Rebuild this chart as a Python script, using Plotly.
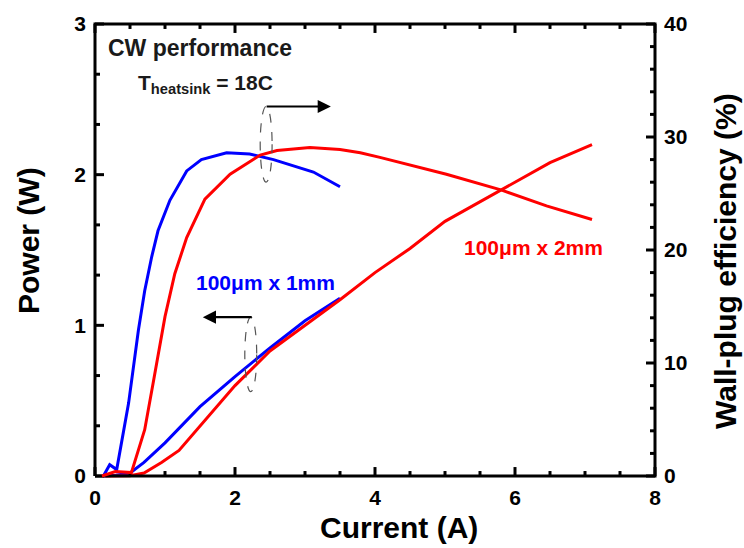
import plotly.graph_objects as go

# Power vs current, 100um x 1mm device
i_p1 = [0.12, 0.30, 0.50, 0.70, 1.00, 1.50, 2.00, 2.50, 3.00, 3.50]
p_1 = [0.00, 0.005, 0.02, 0.09, 0.22, 0.46, 0.66, 0.85, 1.03, 1.18]

# Power vs current, 100um x 2mm device
i_p2 = [0.15, 0.50, 0.70, 0.95, 1.20, 1.50, 2.00, 2.50, 3.00, 3.50, 4.00, 4.50, 5.00, 5.50, 6.00, 6.50, 7.10]
p_2 = [0.00, 0.002, 0.02, 0.09, 0.17, 0.33, 0.60, 0.83, 1.00, 1.17, 1.35, 1.51, 1.69, 1.82, 1.95, 2.08, 2.20]

# Wall-plug efficiency (%), 100um x 1mm device
i_e1 = [0.12, 0.21, 0.31, 0.48, 0.62, 0.71, 0.81, 0.90, 1.07, 1.31, 1.52, 1.88, 2.21, 2.55, 3.12, 3.50]
e_1 = [0.0, 1.0, 0.57, 6.45, 12.9, 16.4, 19.4, 21.7, 24.4, 27.0, 28.0, 28.6, 28.5, 28.0, 26.9, 25.6]

# Wall-plug efficiency (%), 100um x 2mm device
i_e2 = [0.10, 0.29, 0.52, 0.71, 0.83, 1.00, 1.14, 1.31, 1.57, 1.93, 2.36, 2.60, 3.07, 3.50, 3.79, 4.07, 5.02, 5.81, 6.45, 7.10]
e_2 = [0.0, 0.4, 0.3, 4.1, 8.2, 14.1, 17.9, 21.1, 24.5, 26.7, 28.4, 28.8, 29.06, 28.9, 28.6, 28.2, 26.7, 25.3, 23.9, 22.7]

# Axis limits and tick positions
X_LIM, Y_LIM, Y2_LIM = (0, 8), (0, 3), (0, 40)
x_major = [0, 2, 4, 6, 8]
x_minor = [0.5, 1, 1.5, 2.5, 3, 3.5, 4.5, 5, 5.5, 6.5, 7, 7.5]
y_major = [0, 1, 2, 3]
y_minor = [1 / 3, 2 / 3, 4 / 3, 5 / 3, 7 / 3, 8 / 3]
y2_major = [0, 10, 20, 30, 40]
y2_minor = [2, 4, 6, 8, 12, 14, 16, 18, 22, 24, 26, 28, 32, 34, 36, 38]

BLUE = "#0000ff"
RED = "#ff0000"
FONT = "Liberation Sans"

# Layout geometry (pixels): frame box plus a small pad so the frame stroke is not clipped
W, H = 744, 548
FRAME_L, FRAME_R, FRAME_T, FRAME_B = 95, 655, 22, 476
PAD = 2
PX_X = (FRAME_R - FRAME_L) / (X_LIM[1] - X_LIM[0])
PX_Y = (FRAME_B - FRAME_T) / (Y_LIM[1] - Y_LIM[0])
PX_Y2 = (FRAME_B - FRAME_T) / (Y2_LIM[1] - Y2_LIM[0])
x_range = [X_LIM[0] - PAD / PX_X, X_LIM[1] + PAD / PX_X]
y_range = [Y_LIM[0] - PAD / PX_Y, Y_LIM[1] + PAD / PX_Y]
y2_range = [Y2_LIM[0] - PAD / PX_Y2, Y2_LIM[1] + PAD / PX_Y2]
ML, MR, MT, MB = FRAME_L - PAD, W - FRAME_R - PAD, FRAME_T - PAD, H - FRAME_B - PAD
PW, PH = W - ML - MR, H - MT - MB

MAJOR_LEN, MINOR_LEN = 9, 5

fig = go.Figure()
fig.add_trace(go.Scatter(x=i_p1, y=p_1, mode="lines", line=dict(color=BLUE, width=3), yaxis="y"))
fig.add_trace(go.Scatter(x=i_p2, y=p_2, mode="lines", line=dict(color=RED, width=3), yaxis="y"))
fig.add_trace(go.Scatter(x=i_e1, y=e_1, mode="lines", line=dict(color=BLUE, width=3), yaxis="y2"))
fig.add_trace(go.Scatter(x=i_e2, y=e_2, mode="lines", line=dict(color=RED, width=3), yaxis="y2"))

# Frame and inward ticks, drawn as line segments
fx, fy = [], []
fx += [X_LIM[0], X_LIM[1], X_LIM[1], X_LIM[0], X_LIM[0], None]
fy += [Y_LIM[0], Y_LIM[0], Y_LIM[1], Y_LIM[1], Y_LIM[0], None]
for vals, ln in ((x_major, MAJOR_LEN), (x_minor, MINOR_LEN)):
    for v in vals:
        fx += [v, v, None, v, v, None]
        fy += [Y_LIM[0], Y_LIM[0] + ln / PX_Y, None, Y_LIM[1], Y_LIM[1] - ln / PX_Y, None]
for vals, ln in ((y_major, MAJOR_LEN), (y_minor, MINOR_LEN)):
    for v in vals:
        fx += [X_LIM[0], X_LIM[0] + ln / PX_X, None]
        fy += [v, v, None]
fig.add_trace(go.Scatter(x=fx, y=fy, mode="lines", line=dict(color="black", width=3, simplify=False),
                         yaxis="y", hoverinfo="skip"))
rx, ry = [], []
for vals, ln in ((y2_major, MAJOR_LEN), (y2_minor, MINOR_LEN)):
    for v in vals:
        rx += [X_LIM[1], X_LIM[1] - ln / PX_X, None]
        ry += [v, v, None]
fig.add_trace(go.Scatter(x=rx, y=ry, mode="lines", line=dict(color="black", width=3, simplify=False),
                         yaxis="y2", hoverinfo="skip"))

tickfont = dict(family=FONT, size=21, color="black", weight="bold")
titlefont = dict(family=FONT, size=30, color="black", weight="bold")

common = dict(showline=False, ticks="", showgrid=False, zeroline=False, tickfont=tickfont)
fig.update_layout(
    width=W, height=H,
    margin=dict(l=ML, r=MR, t=MT, b=MB),
    paper_bgcolor="white", plot_bgcolor="white",
    showlegend=False,
    xaxis=dict(range=x_range, tickvals=x_major, ticklabelstandoff=5, **common),
    yaxis=dict(range=y_range, tickvals=y_major, ticklabelstandoff=6, **common),
    yaxis2=dict(range=y2_range, tickvals=y2_major, overlaying="y", side="right",
                ticklabelstandoff=6, **common),
)


def px_to_paper(px, py):
    return (px - ML) / PW, (H - MB - py) / PH


# Axis titles
tx, ty = px_to_paper(399, 528)
fig.add_annotation(x=tx, y=ty, xref="paper", yref="paper", text="Current (A)",
                   showarrow=False, xanchor="center", yanchor="middle", font=titlefont)
tx, ty = px_to_paper(28, 240)
fig.add_annotation(x=tx, y=ty, xref="paper", yref="paper", text="Power (W)", textangle=-90,
                   showarrow=False, xanchor="center", yanchor="middle", font=titlefont)
tx, ty = px_to_paper(726, 260)
fig.add_annotation(x=tx, y=ty, xref="paper", yref="paper", text="Wall-plug efficiency (%)",
                   textangle=-90, showarrow=False, xanchor="center", yanchor="middle", font=titlefont)

fig.add_annotation(x=0.15, y=2.84, xref="x", yref="y", text="CW performance",
                   showarrow=False, xanchor="left", yanchor="middle",
                   font=dict(family=FONT, size=23, color="#1a1a1a", weight="bold"))
fig.add_annotation(x=0.58, y=2.6, xref="x", yref="y",
                   text="T<sub>heatsink</sub> = 18C",
                   showarrow=False, xanchor="left", yanchor="middle",
                   font=dict(family=FONT, size=21, color="#1a1a1a", weight="bold"))
fig.add_annotation(x=2.44, y=1.285, xref="x", yref="y", text="100\u03bcm x 1mm",
                   showarrow=False, xanchor="center", yanchor="middle",
                   font=dict(family=FONT, size=21, color=BLUE, weight="bold"))
fig.add_annotation(x=6.26, y=20.2, xref="x", yref="y2", text="100\u03bcm x 2mm",
                   showarrow=False, xanchor="center", yanchor="middle",
                   font=dict(family=FONT, size=21, color=RED, weight="bold"))

# Arrows pointing to the axis each curve pair belongs to
fig.add_annotation(x=3.37, y=32.7, ax=2.43, ay=32.7, xref="x", yref="y2", axref="x", ayref="y2",
                   text="", showarrow=True, arrowhead=2, arrowsize=1.2, arrowwidth=2.2, arrowcolor="black")
fig.add_annotation(x=1.54, y=1.054, ax=2.26, ay=1.054, xref="x", yref="y", axref="x", ayref="y",
                   text="", showarrow=True, arrowhead=2, arrowsize=1.2, arrowwidth=2.2, arrowcolor="black")

# Dashed ellipses grouping the curve pairs
fig.add_shape(type="circle", xref="x", yref="y2", x0=2.36, x1=2.53, y0=26.0, y1=32.7,
              line=dict(color="#555555", width=1.2, dash="dash"))
fig.add_shape(type="circle", xref="x", yref="y", x0=2.14, x1=2.31, y0=0.56, y1=1.054,
              line=dict(color="#555555", width=1.2, dash="dash"))

fig.write_html("out.html")
